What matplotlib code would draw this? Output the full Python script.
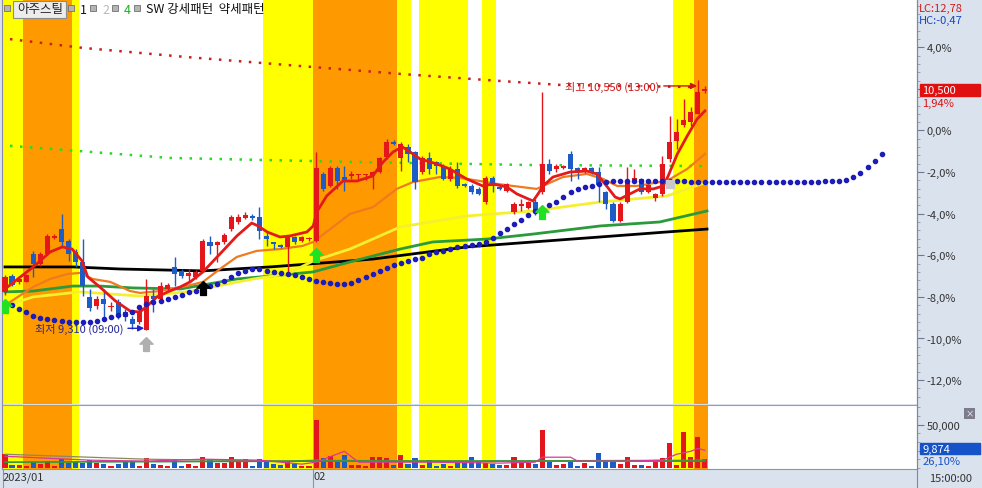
import numpy as np
import matplotlib.pyplot as plt
from matplotlib.patches import Rectangle
from matplotlib.lines import Line2D
from matplotlib.transforms import blended_transform_factory
from matplotlib.ticker import FixedLocator, FuncFormatter

plt.rcParams['font.family'] = ['Noto Sans CJK KR', 'DejaVu Sans']

# candles, % change vs 10,300 (last price 10,500 = 1.94%)
opens = [-7.76, -7.00, -7.28, -7.28, -5.94, -6.42, -5.94, -5.17, -4.74, -5.31,
         -5.84, -6.32, -8.00, -8.44, -8.10, -8.49, -8.25, -8.73, -9.06, -9.21,
         -9.60, -7.96, -8.10, -7.62, -6.56, -6.75, -7.00, -7.04, -6.75, -5.36,
         -5.50, -5.36, -4.74, -4.40, -4.21, -4.16, -4.16, -5.07, -5.43, -5.50,
         -5.60, -5.12, -5.31, -5.22, -5.31, -2.09, -2.67, -1.80, -2.24, -2.19,
         -2.14, -2.14, -2.19, -2.00, -1.27, -0.55, -1.32, -0.79, -1.03, -2.00,
         -1.32, -1.51, -1.70, -2.33, -1.85, -2.57, -2.67, -2.81, -3.44, -2.28,
         -2.72, -2.91, -3.92, -3.63, -3.73, -3.44, -2.96, -1.61, -1.85, -1.80,
         -1.13, -1.80, -2.00, -1.80, -2.00, -2.96, -3.53, -4.35, -3.44, -2.43,
         -2.33, -2.96, -3.25, -3.05, -1.37, -0.50, 0.26, 0.41, 0.79, 1.90]
closes = [-7.04, -7.43, -7.14, -6.95, -6.42, -5.94, -5.07, -5.07, -5.36, -5.94,
          -6.32, -7.48, -8.53, -8.10, -8.34, -8.44, -8.97, -8.97, -9.30, -8.73,
          -7.96, -8.10, -7.48, -7.43, -6.90, -7.00, -6.85, -6.80, -5.31, -5.55,
          -5.36, -5.02, -4.16, -4.16, -4.06, -4.20, -4.83, -5.20, -5.45, -5.60,
          -5.12, -5.36, -5.12, -5.20, -1.80, -2.81, -1.80, -2.43, -2.43, -2.09,
          -2.12, -2.12, -2.00, -1.32, -0.55, -0.65, -0.65, -1.13, -2.48, -1.32,
          -1.85, -1.70, -2.33, -1.85, -2.67, -2.67, -2.96, -3.05, -2.28, -2.67,
          -2.81, -2.57, -3.53, -3.53, -3.44, -3.92, -1.61, -1.95, -1.70, -1.70,
          -1.85, -2.00, -1.80, -2.00, -2.62, -3.53, -4.35, -3.53, -2.48, -2.28,
          -2.96, -2.62, -3.05, -1.61, -0.55, -0.07, 0.50, 0.89, 1.85, 1.94]
highs = [-6.95, -6.90, -7.00, -6.90, -5.79, -5.85, -4.97, -4.97, -4.01, -5.20,
         -5.70, -5.20, -7.62, -7.96, -7.62, -8.25, -8.10, -8.58, -8.92, -8.58,
         -7.14, -7.62, -7.28, -7.33, -6.08, -6.66, -6.66, -6.70, -5.20, -5.07,
         -5.31, -4.93, -4.06, -4.01, -3.92, -4.01, -3.68, -4.83, -5.43, -5.46,
         -5.07, -5.07, -5.07, -5.12, -1.03, -2.00, -1.70, -1.70, -1.70, -1.95,
         -2.09, -2.09, -1.95, -1.27, -0.41, -0.46, -0.55, -0.65, -0.99, -1.22,
         -1.03, -1.47, -1.61, -1.70, -1.51, -2.52, -2.57, -2.72, -2.19, -2.19,
         -2.67, -2.52, -3.44, -3.29, -3.39, -3.29, 1.85, -1.37, -1.61, -1.65,
         -0.99, -1.75, -1.75, -1.75, -1.75, -2.91, -3.44, -3.44, -1.75, -1.85,
         -2.28, -2.57, -3.00, -1.22, 0.70, 0.55, 1.51, 1.13, 2.43, 2.14]
lows = [-7.91, -7.50, -7.40, -7.30, -7.04, -6.50, -5.99, -5.20, -5.55, -6.27,
        -6.56, -7.96, -8.68, -8.58, -8.97, -8.68, -9.06, -9.16, -9.54, -9.30,
        -9.61, -8.73, -8.20, -7.72, -7.48, -7.09, -7.28, -7.14, -6.80, -5.94,
        -6.32, -5.46, -4.83, -4.50, -4.26, -4.30, -5.20, -5.55, -5.70, -5.65,
        -6.99, -5.46, -5.36, -5.30, -5.36, -2.90, -2.72, -2.81, -2.91, -2.33,
        -2.33, -2.40, -2.81, -2.04, -1.37, -0.70, -1.95, -1.51, -2.81, -2.09,
        -2.09, -2.09, -2.40, -2.43, -2.76, -2.72, -3.05, -3.10, -3.53, -2.96,
        -2.86, -2.96, -4.01, -3.87, -3.77, -4.06, -3.05, -2.09, -2.00, -1.85,
        -2.43, -2.33, -2.04, -2.09, -3.44, -3.77, -4.40, -4.40, -3.50, -2.48,
        -3.05, -3.00, -3.39, -3.15, -1.51, -0.89, 0.17, 0.22, 0.79, 1.80]
volumes = [15900, 3800, 3800, 2700, 6400, 4500, 8300, 2700, 11000, 5700,
           6400, 5700, 9100, 5700, 4500, 2700, 4500, 8300, 8300, 2700,
           11400, 4500, 3800, 2700, 9100, 2700, 4500, 2700, 12900, 10200,
           5300, 5300, 13200, 9500, 11000, 2700, 11000, 6400, 4500, 3800,
           6400, 4500, 2700, 2700, 55000, 12100, 14000, 6400, 14800, 3800,
           3800, 2700, 13200, 12900, 11400, 3800, 14800, 4500, 12100, 3800,
           9100, 2700, 4500, 2700, 6400, 6400, 13200, 6400, 5700, 4500,
           3400, 3800, 13200, 5700, 5700, 4500, 44300, 6400, 3800, 4500,
           6400, 2700, 5700, 2700, 17000, 9100, 6400, 4500, 13200, 3800,
           3800, 2700, 6400, 11400, 28400, 3800, 41700, 13200, 36000, 9874]

# moving averages (candle index, %)
ma_red_x = [0, 4.0, 6.4, 8.1, 9.5, 10.9, 11.7, 13.4, 15.6, 17.7, 19.1, 20.1, 21.5, 23.3, 24.8,
            26.2, 28.0, 30.4, 32.8, 34.9, 35.8, 37.1, 38.9, 40.3, 42.7, 43.6, 44.1, 45.5, 47.8,
            49.8, 52.0, 53.5, 54.9, 56.2, 57.3, 58.7, 61.1, 62.9, 65.3, 67.6, 69.0, 71.0, 72.4,
            74.0, 74.7, 75.4, 76.1, 77.5, 79.9, 82.3, 83.7, 85.1, 86.3, 87.0, 88.4, 89.8, 91.7,
            93.1, 93.8, 95.1, 96.5, 97.9, 99.0]
ma_red_y = [-7.62, -6.56, -5.84, -5.60, -5.70, -6.27, -7.04, -7.52, -8.19, -8.68, -8.73, -8.44, -8.00,
            -7.72, -7.52, -7.28, -6.80, -5.94, -5.07, -4.45, -4.59, -4.88, -5.12, -5.07, -4.88, -4.59,
            -3.92, -3.15, -2.43, -2.43, -2.19, -1.51, -1.03, -0.79, -1.03, -1.37, -1.61, -1.85, -2.33,
            -2.67, -2.57, -2.72, -3.05, -3.29, -3.39, -3.05, -2.67, -2.24, -2.00, -1.95, -2.09, -2.67,
            -3.20, -3.29, -3.05, -2.81, -2.81, -2.67, -2.19, -1.13, -0.26, 0.55, 0.94]
ma_orange_x = [0.3, 4.0, 6.4, 8.8, 10.6, 12.4, 14.9, 17.7, 19.1, 21.9, 25.7, 28.0, 30.4, 32.8, 35.6,
               38.9, 42.1, 43.6, 46.0, 48.8, 52.1, 55.4, 57.7, 61.5, 64.4, 67.2, 69.6, 71.9, 75.2,
               76.7, 78.9, 82.3, 84.6, 86.6, 89.4, 92.6, 94.1, 96.5, 99.0]
ma_orange_y = [-8.34, -7.52, -7.14, -6.90, -6.85, -7.14, -7.28, -7.72, -7.81, -7.72, -7.48, -7.28,
               -6.66, -6.08, -5.79, -5.70, -5.55, -5.36, -4.74, -4.01, -3.68, -2.81, -2.48, -2.24,
               -2.28, -2.43, -2.57, -2.67, -2.81, -2.57, -2.24, -2.09, -2.33, -2.67, -2.67, -2.48,
               -2.33, -1.85, -1.13]
ma_yellow_x = [0, 4.0, 10.6, 14.9, 19.1, 25.7, 29.4, 35.1, 39.9, 43.6, 48.8, 55.9, 65.3, 74.7,
               84.2, 93.6, 99.3]
ma_yellow_y = [-8.44, -8.00, -7.76, -7.86, -7.96, -7.76, -7.52, -7.14, -6.90, -6.27, -5.70, -4.64,
               -4.11, -3.87, -3.44, -3.15, -2.48]
ma_green_x = [0, 4.0, 9.6, 13.4, 18.1, 24.8, 32.8, 37.5, 43.6, 48.8, 55.9, 60.5, 68.2, 74.7, 84.2,
              92.6, 99.3]
ma_green_y = [-7.76, -7.72, -7.48, -7.48, -7.57, -7.62, -7.14, -7.00, -6.80, -6.32, -5.70, -5.36,
              -5.22, -4.98, -4.59, -4.40, -3.87]
ma_black_x = [0, 9.6, 16.3, 28.0, 37.5, 48.8, 52.1, 65.3, 74.7, 84.2, 93.6, 99.3]
ma_black_y = [-6.56, -6.56, -6.66, -6.75, -6.56, -6.27, -6.18, -5.60, -5.36, -5.12, -4.88, -4.74]

# dotted trend lines
trend_red_x = [-0.7, 11.0, 25.7, 41.7, 55.9, 70.0, 78.5, 96.9]
trend_red_y = [4.45, 3.97, 3.53, 3.10, 2.72, 2.38, 2.19, 2.09]
trend_green_x = [-0.7, 23.3, 48.8, 74.3, 99.3]
trend_green_y = [-0.70, -1.32, -1.51, -1.66, -1.71]

# blue dot indicator, one value per bar (incl. projection)
dots = [-8.44, -8.39, -8.58, -8.73, -8.92, -9.01, -9.06, -9.11, -9.16, -9.21,
        -9.21, -9.21, -9.21, -9.16, -9.06, -8.97, -8.87, -8.82, -8.73, -8.49,
        -8.34, -8.25, -8.20, -8.10, -8.00, -7.91, -7.76, -7.72, -7.62, -7.48,
        -7.38, -7.24, -7.04, -6.85, -6.75, -6.66, -6.66, -6.75, -6.80, -6.85,
        -6.90, -6.95, -7.04, -7.14, -7.24, -7.28, -7.33, -7.38, -7.38, -7.33,
        -7.19, -7.04, -6.90, -6.75, -6.61, -6.47, -6.37, -6.27, -6.18, -6.13,
        -5.94, -5.84, -5.79, -5.70, -5.60, -5.55, -5.50, -5.46, -5.36, -5.17,
        -4.93, -4.74, -4.50, -4.30, -4.06, -3.87, -3.77, -3.58, -3.44, -3.20,
        -2.96, -2.81, -2.72, -2.67, -2.57, -2.48, -2.43, -2.43, -2.43, -2.43,
        -2.43, -2.43, -2.43, -2.45, -2.45, -2.45, -2.45, -2.48, -2.48, -2.48,
        -2.48, -2.48, -2.48, -2.48, -2.48, -2.48, -2.48, -2.48, -2.48, -2.48,
        -2.48, -2.48, -2.48, -2.48, -2.48, -2.46, -2.45, -2.45, -2.43, -2.38,
        -2.24, -2.04, -1.75, -1.47, -1.13]

# signal arrows
buy_idx = [0, 44, 76]
buy_val = [-8.44, -5.99, -3.94]
black_idx = [28]
black_val = [-7.57]
gray_idx = [20]
gray_val = [-10.26]

# pattern bands
band_start = [-0.5, 2.5, 9.5, 36.5, 43.5, 55.5, 58.5, 67.5, 94.5, 97.5]
band_end = [2.5, 9.5, 10.5, 43.5, 55.5, 57.5, 65.5, 69.5, 97.5, 99.5]
band_kind = ['strong', 'weak', 'strong', 'strong', 'weak', 'strong', 'strong', 'strong', 'strong', 'weak']

# volume moving averages
vma_pink_x = [0, 12, 20, 28, 36, 42, 44, 48, 50, 60, 70, 75, 76, 80, 81, 88, 93, 95, 97, 98, 99]
vma_pink_y = [13600, 9100, 8000, 10200, 9100, 4500, 6800, 19300, 6800, 6800, 5700, 6800, 12500,
              12500, 8000, 8000, 9100, 15900, 19300, 22700, 20400]
vma_olive_x = [0, 20, 40, 44, 60, 99]
vma_olive_y = [15900, 10200, 8000, 9100, 8000, 9100]
vma_green_x = [0, 44, 99]
vma_green_y = [6800, 8000, 8000]

RED = '#e3161b'
BLUE = '#1d5cc6'
W, H = 982, 489


def fx(p):
    return p / W


def fy(p):
    return 1 - p / H


fig = plt.figure(figsize=(9.82, 4.89), dpi=100, facecolor='#dae2ed')
ax = fig.add_axes([fx(2), fy(405), (917 - 2) / W, 405 / H])
axv = fig.add_axes([fx(2), fy(470), (917 - 2) / W, (470 - 406) / H])

o = np.array(opens)
c = np.array(closes)
h = np.array(highs)
l = np.array(lows)
idx = np.arange(len(o))
cols = np.where(c >= o, RED, BLUE)

band_color = {'strong': '#ffff00', 'weak': '#ff9900'}
for s, e, k in zip(band_start, band_end, band_kind):
    ax.axvspan(s, e, color=band_color[k], lw=0, zorder=0)
    axv.axvspan(s, e, color=band_color[k], lw=0, zorder=0)

# dotted trend lines
ax.plot(trend_red_x, trend_red_y, color='#c8201c', lw=1.8, ls=(0, (1, 3)), zorder=1)
ax.plot(trend_green_x, trend_green_y, color='#22dd22', lw=1.8, ls=(0, (1, 3)), zorder=1)

# moving averages
ax.plot(ma_black_x, ma_black_y, color='black', lw=2, zorder=2)
ax.plot(ma_green_x, ma_green_y, color='#2a9a3a', lw=2, zorder=2)
ax.plot(ma_yellow_x, ma_yellow_y, color='#f4f030', lw=2, zorder=2)
ax.plot(ma_orange_x, ma_orange_y, color='#f07a20', lw=1.6, zorder=2)

# candles
ax.vlines(idx, l, h, colors=cols, lw=1, zorder=3)
ax.bar(idx, np.maximum(np.abs(c - o), 0.07), bottom=np.minimum(o, c), width=0.72,
       color=cols, linewidth=0, zorder=3)
ax.plot(ma_red_x, ma_red_y, color='#e41a1a', lw=2, zorder=4)

ax.plot(np.arange(len(dots)), dots, 'o', ms=3.0, color='#1c1cb8', zorder=5)

arrow = [(0, 1), (0.95, 0.05), (0.42, 0.05), (0.42, -1), (-0.42, -1), (-0.42, 0.05), (-0.95, 0.05), (0, 1)]
ax.plot(buy_idx, buy_val, ls='none', marker=arrow, ms=10, color='#22e022', mec='#22e022', zorder=6)
ax.plot(black_idx, black_val, ls='none', marker=arrow, ms=10, color='black', zorder=6)
ax.plot(gray_idx, gray_val, ls='none', marker=arrow, ms=10, color='#b0b0b0', zorder=6)
ax.plot([94], [-2.57], ls='none', marker='s', ms=5.5, color='#c8c8c8', zorder=6)

hi = int(np.argmax(h))
lo = int(np.argmin(l))
ax.annotate('최고 10,550 (13:00)', xy=(hi - 0.1, h[hi] - 0.29), xytext=(hi - 5.4, h[hi] - 0.29),
            ha='right', va='center', color='#d01414', fontsize=8, zorder=7,
            arrowprops=dict(arrowstyle='-|>', color='#d01414', lw=1, shrinkA=1, shrinkB=0,
                            mutation_scale=9))
ax.annotate('최저 9,310 (09:00)', xy=(lo - 0.3, l[lo] + 0.1), xytext=(lo - 3.2, l[lo] + 0.1),
            ha='right', va='center', color='#24249a', fontsize=8, zorder=7,
            arrowprops=dict(arrowstyle='-|>', color='#2020c8', lw=1, shrinkA=1, shrinkB=0,
                            mutation_scale=9))

ax.set_xlim(-0.42, 129.0)
ax.set_ylim(-13.15, 6.32)
ax.set_facecolor('white')
ax.set_xticks([])
ax.yaxis.tick_right()
major = [4, 2, 0, -2, -4, -6, -8, -10, -12]
ax.yaxis.set_major_locator(FixedLocator(major))
ax.yaxis.set_minor_locator(FixedLocator(np.arange(-13.2, 6.4, 0.4)))
ax.yaxis.set_major_formatter(FuncFormatter(
    lambda v, p: '' if abs(v - 2) < 1e-6 else f'{v:.1f}%'.replace('.', ',')))
ax.tick_params(axis='y', which='major', length=5, width=0.8, color='#6c7a90', pad=2,
               labelsize=8, labelcolor='#333333')
ax.tick_params(axis='y', which='minor', length=2.5, width=0.6, color='#8a96a8')
for side in ['top', 'bottom']:
    ax.spines[side].set_visible(False)
ax.spines['left'].set_color('#8a8aa8')
ax.spines['right'].set_color('#7c889c')

# volume panel
axv.bar(idx, volumes, width=0.72, color=cols, linewidth=0, zorder=3)
axv.plot(vma_olive_x, vma_olive_y, color='#8a8a5a', lw=0.9, zorder=4)
axv.plot(vma_green_x, vma_green_y, color='#2a9a3a', lw=1.2, zorder=4)
axv.plot(vma_pink_x, vma_pink_y, color='#d8389a', lw=0.9, zorder=4)
axv.set_xlim(-0.42, 129.0)
axv.set_ylim(-1100, 72700)
axv.set_facecolor('white')
axv.yaxis.tick_right()
axv.yaxis.set_major_locator(FixedLocator([50000]))
axv.yaxis.set_minor_locator(FixedLocator(np.arange(0, 72000, 10000)))
axv.yaxis.set_major_formatter(FuncFormatter(lambda v, p: f'{v:,.0f}'))
axv.tick_params(axis='y', which='major', length=5, width=0.8, color='#6c7a90', pad=2,
                labelsize=8, labelcolor='#333333')
axv.tick_params(axis='y', which='minor', length=2.5, width=0.6, color='#8a96a8')
axv.set_xticks([-0.3, 43.6])
axv.set_xticklabels(['2023/01', '02'])
axv.tick_params(axis='x', length=14, width=0.8, color='#8a96a8', pad=-12.5, labelsize=8,
                labelcolor='#333333')
for lbl in axv.get_xticklabels():
    lbl.set_ha('left')
axv.spines['top'].set_color('#9aa0aa')
axv.spines['bottom'].set_color('#8a96a8')
axv.spines['left'].set_color('#8a8aa8')
axv.spines['right'].set_color('#7c889c')

# right-hand price / volume boxes
tp = blended_transform_factory(ax.transAxes, ax.transData)
last = c[-1]
ax.add_patch(Rectangle((1.0033, last - 0.28), 0.0656, 0.56, transform=tp, color='#e01010',
                       clip_on=False, zorder=8))
ax.text(1.006, last, '10,500', transform=tp, color='white', fontsize=8, va='center', zorder=9)
ax.text(1.006, last - 0.6, '1,94%', transform=tp, color='#e01010', fontsize=8, va='center')
axv.add_patch(Rectangle((1.0033, 0.234), 0.0656, 0.172, transform=axv.transAxes,
                        color='#1652c8', clip_on=False, zorder=8))
axv.text(1.006, 0.32, f'{volumes[-1]:,}', transform=axv.transAxes, color='white', fontsize=8,
         va='center', zorder=9)
axv.text(1.006, 0.125, '26,10%', transform=axv.transAxes, color='#1652c8', fontsize=8,
         va='center')
axv.text(0.985 * 982 / 915, 0.87, '×', transform=axv.transAxes, fontsize=6, color='white',
         ha='center', va='center', bbox=dict(boxstyle='square,pad=0.15', fc='#7c7c8c', ec='none'))

fig.text(fx(919), fy(9), 'LC:12,78', color='#d81818', fontsize=8, va='center')
fig.text(fx(919), fy(21), 'HC:-0,47', color='#1848c0', fontsize=8, va='center')
fig.text(fx(929), fy(479), '15:00:00', color='#333333', fontsize=8, va='center')
fig.add_artist(Line2D([fx(917), fx(917)], [0, 1], color='#7c889c', lw=0.8))

# header legend
for sx in [4, 68, 90, 112, 134]:
    fig.add_artist(Rectangle((fx(sx), fy(12)), 6 / W, 6 / H, fc='#b4b4b4', ec='#707070', lw=0.6))
fig.add_artist(Rectangle((fx(13), fy(19)), 53 / W, 17 / H, fc='#ececec', ec='#8c8c8c', lw=0.8))
fig.text(fx(17), fy(10), '아주스틸', fontsize=9, color='#222222', va='center')
fig.text(fx(80), fy(10), '1', fontsize=9, color='#111111', va='center')
fig.text(fx(102), fy(10), '2', fontsize=9, color='#b8b8b8', va='center')
fig.text(fx(124), fy(10), '4', fontsize=9, color='#20b020', va='center')
fig.text(fx(146), fy(10), 'SW 강세패턴  약세패턴', fontsize=9, color='#111111', va='center')

fig.savefig('out.png', dpi=100, facecolor=fig.get_facecolor())
